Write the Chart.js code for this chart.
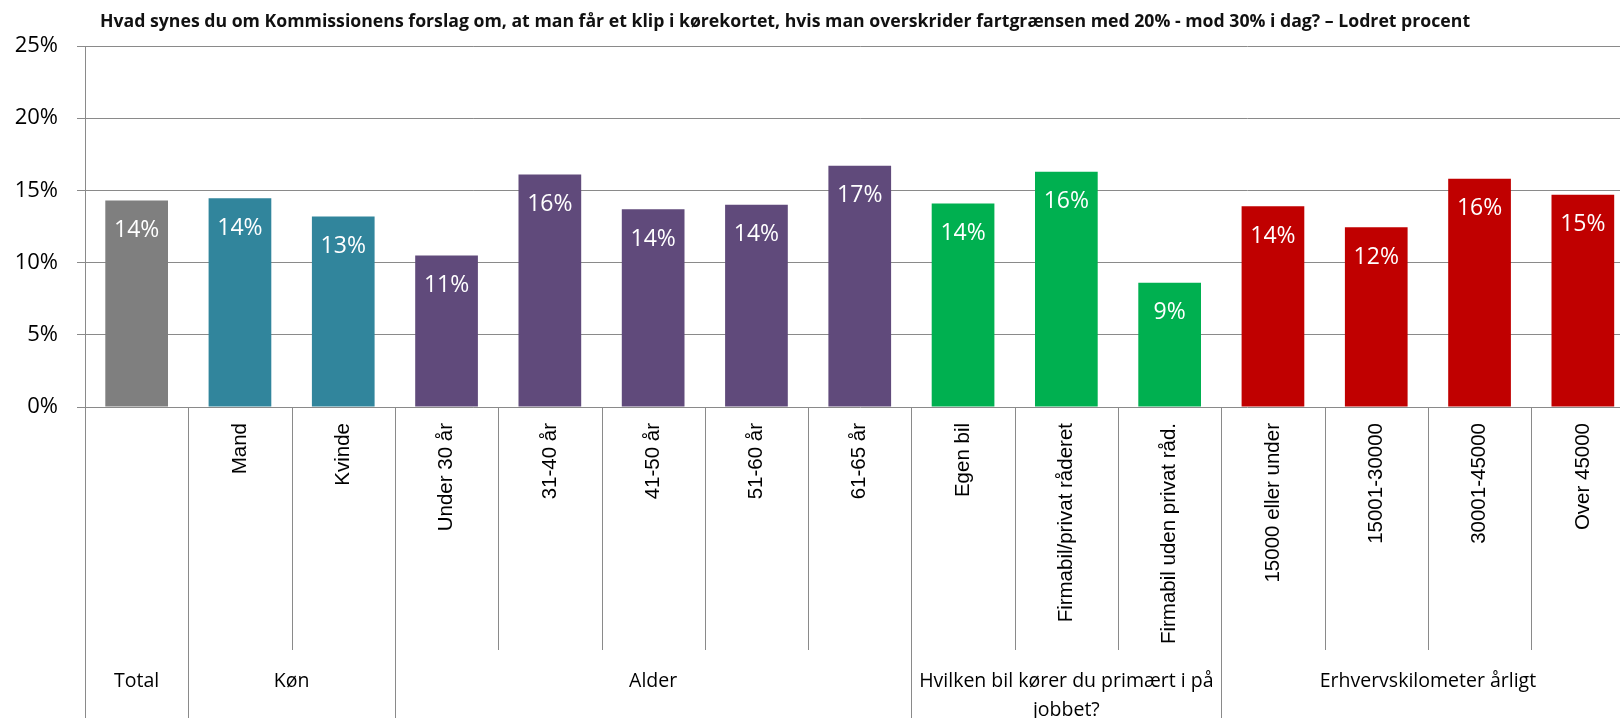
<!DOCTYPE html>
<html>
<head>
<meta charset="utf-8">
<script src="https://cdn.jsdelivr.net/npm/chart.js@4.4.1/dist/chart.umd.min.js"></script>
<style>
  html, body { margin: 0; padding: 0; background: #fff; overflow: hidden; }
  #wrap { width: 1650px; height: 718px; }
</style>
</head>
<body>
<div id="wrap"><canvas id="c" width="1650" height="718"></canvas></div>
<script>
const titleText = 'Hvad synes du om Kommissionens forslag om, at man får et klip i kørekortet, hvis man overskrider fartgrænsen med 20% - mod 30% i dag? – Lodret procent';
const categories = ['Total', 'Mand', 'Kvinde', 'Under 30 år', '31-40 år', '41-50 år', '51-60 år', '61-65 år',
  'Egen bil', 'Firmabil/privat råderet', 'Firmabil uden privat råd.',
  '15000 eller under', '15001-30000', '30001-45000', 'Over 45000'];
const rotatedLabels = ['', 'Mand', 'Kvinde', 'Under 30 år', '31-40 år', '41-50 år', '51-60 år', '61-65 år',
  'Egen bil', 'Firmabil/privat råderet', 'Firmabil uden privat råd.',
  '15000 eller under', '15001-30000', '30001-45000', 'Over 45000'];
const values = [14.3, 14.45, 13.2, 10.5, 16.1, 13.7, 14.0, 16.7, 14.1, 16.3, 8.6, 13.9, 12.45, 15.8, 14.7];
const groupNames = [['Total'], ['Køn'], ['Alder'], ['Hvilken bil kører du primært i på', 'jobbet?'], ['Erhvervskilometer årligt']];
const groupSizes = [1, 2, 5, 3, 4];
const groupColors = ['#7F7F7F', '#31859C', '#604A7B', '#00B050', '#C00000'];
const yTicks = [0, 5, 10, 15, 20, 25];

const barColors = [];
groupSizes.forEach((n, g) => { for (let i = 0; i < n; i++) barColors.push(groupColors[g]); });

const LINE = '#8a8a8a';

const overlay = {
  id: 'overlay',
  afterDraw(chart) {
    const ctx = chart.ctx;
    const xs = chart.scales.x;
    const area = chart.chartArea;
    const H = chart.height;
    const half = (xs.getPixelForTick(1) - xs.getPixelForTick(0)) / 2;

    // title
    ctx.save();
    let size = 20;
    ctx.font = 'bold ' + size + 'px "Open Sans"';
    const w = ctx.measureText(titleText).width;
    size = size * 1371 / w;
    ctx.font = 'bold ' + size.toFixed(2) + 'px "Open Sans"';
    ctx.fillStyle = '#111';
    ctx.textAlign = 'left';
    ctx.textBaseline = 'alphabetic';
    ctx.fillText(titleText, 100, 27);
    ctx.restore();

    // data labels
    ctx.save();
    ctx.font = '23px "Open Sans"';
    ctx.fillStyle = '#ffffff';
    ctx.textAlign = 'center';
    ctx.textBaseline = 'middle';
    chart.getDatasetMeta(0).data.forEach((bar, i) => {
      ctx.fillText(Math.round(values[i]) + '%', bar.x, bar.y + 30);
    });
    ctx.restore();

    // separators below axis
    ctx.save();
    ctx.strokeStyle = LINE;
    ctx.lineWidth = 1;
    const groupStarts = new Set();
    let acc = 0;
    groupSizes.forEach(n => { groupStarts.add(acc); acc += n; });
    for (let i = 0; i <= categories.length; i++) {
      const px = Math.round(xs.getPixelForTick(Math.min(i, categories.length - 1)) + (i === categories.length ? half : -half)) + 0.5;
      const bottom = groupStarts.has(i) || i === categories.length ? H : area.bottom + 243;
      ctx.beginPath();
      ctx.moveTo(px, area.bottom);
      ctx.lineTo(px, bottom);
      ctx.stroke();
    }
    ctx.restore();

    // group labels
    ctx.save();
    ctx.font = '19.5px "Open Sans"';
    ctx.fillStyle = '#000';
    ctx.textAlign = 'center';
    ctx.textBaseline = 'middle';
    let start = 0;
    groupSizes.forEach((n, g) => {
      const left = xs.getPixelForTick(start) - half;
      const right = xs.getPixelForTick(start + n - 1) + half;
      const cx = (left + right) / 2;
      groupNames[g].forEach((line, k) => {
        ctx.fillText(line, cx, area.bottom + 274 + k * 29);
      });
      start += n;
    });
    ctx.restore();
  }
};

new Chart(document.getElementById('c'), {
  type: 'bar',
  data: {
    labels: rotatedLabels,
    datasets: [{
      data: values,
      backgroundColor: barColors,
      borderWidth: 0,
      barPercentage: 0.607,
      categoryPercentage: 1.0
    }]
  },
  options: {
    responsive: false,
    devicePixelRatio: 1,
    animation: false,
    layout: { padding: { top: 46, left: 0, right: 15.5, bottom: 0 } },
    plugins: { legend: { display: false }, tooltip: { enabled: false }, title: { display: false } },
    scales: {
      x: {
        offset: true,
        grid: { display: false, drawTicks: false, tickLength: 0 },
        border: { display: false },
        ticks: {
          autoSkip: false,
          minRotation: 90,
          maxRotation: 90,
          padding: 16,
          color: '#000',
          font: { family: '"Liberation Sans", Arial, sans-serif', size: 20.5 }
        },
        afterFit(s) { s.height = 311; }
      },
      y: {
        min: 0,
        max: 25,
        afterBuildTicks(s) { s.ticks = yTicks.map(v => ({ value: v })); },
        grid: { color: LINE, lineWidth: 1, tickLength: 8, drawTicks: true },
        border: { display: true, color: LINE, width: 1 },
        ticks: {
          padding: 19,
          color: '#000',
          font: { family: '"Open Sans", sans-serif', size: 22 },
          callback: v => v + '%'
        },
        afterFit(s) { s.width = 85; }
      }
    }
  },
  plugins: [overlay]
});
</script>
</body>
</html>
